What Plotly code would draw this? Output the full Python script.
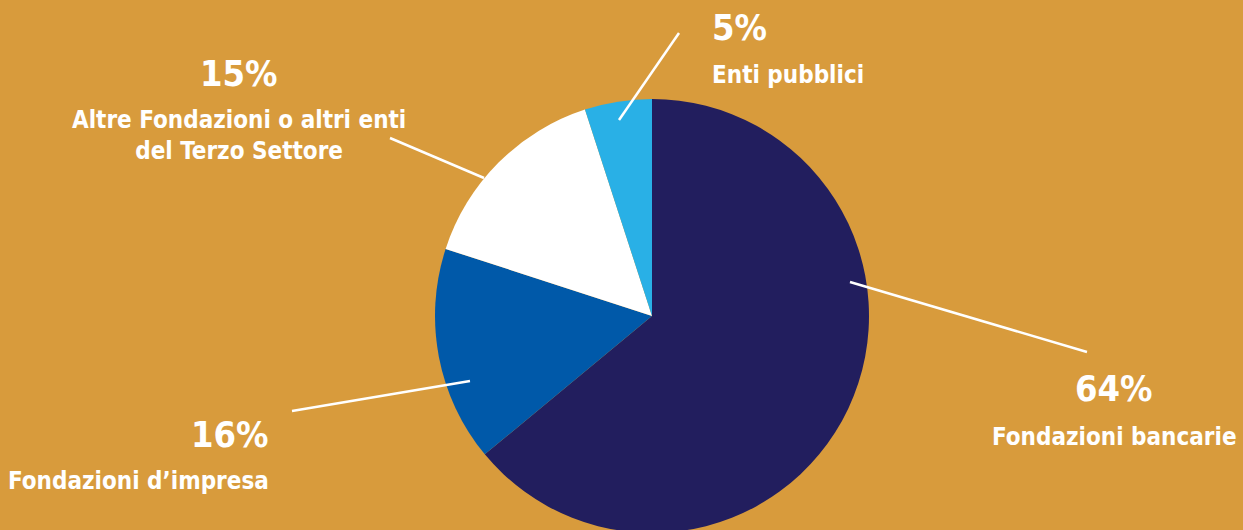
import plotly.graph_objects as go

W, H = 1243, 540

categories = ["Fondazioni bancarie", "Fondazioni d\u2019impresa",
              "Altre Fondazioni o altri enti<br>del Terzo Settore", "Enti pubblici"]
values = [64, 16, 15, 5]
colors = ["#221E5E", "#0059A9", "#FFFFFF", "#29B0E6"]
BG = "#D89B3C"
FONT = "DejaVu Sans Condensed, Roboto, sans-serif"

fig = go.Figure()
fig.add_trace(go.Pie(
    labels=categories, values=values, sort=False, direction="clockwise", rotation=0,
    marker=dict(colors=colors, line=dict(width=0)), textinfo="none", hoverinfo="label+percent",
    showlegend=False,
    domain=dict(x=[435 / W, 869 / W], y=[1 - 533 / H, 1 - 99 / H]),
))

def px(x, y):
    return x / W, 1 - y / H

labels = [
    (f"{values[0]}%", categories[0], 1114, 388, 437, "center", (850, 282), (1087, 352)),
    (f"{values[1]}%", categories[1], 271, 434, 481, "right", (470, 381), (292, 411)),
    (f"{values[2]}%", categories[2], 239, 73, 135.5, "center", (484, 178), (390, 138)),
    (f"{values[3]}%", categories[3], 710, 27, 75, "left", (619, 120), (679, 33)),
]

for pct, name, x, ypct, yname, anchor, p0, p1 in labels:
    xa, ya = px(x, ypct)
    fig.add_annotation(x=xa, y=ya, xref="paper", yref="paper", text=f"<b>{pct}</b>",
                       showarrow=False, xanchor=anchor, yanchor="middle",
                       font=dict(family=FONT, size=36, color="white"))
    xa, yb = px(x, yname)
    fig.add_annotation(x=xa, y=yb, xref="paper", yref="paper", text=f"<b>{name}</b>",
                       showarrow=False, xanchor=anchor, yanchor="middle", align=anchor,
                       font=dict(family=FONT, size=24, color="white"))
    x0, y0 = px(*p0)
    x1, y1 = px(*p1)
    fig.add_shape(type="line", xref="paper", yref="paper", x0=x0, y0=y0, x1=x1, y1=y1,
                  line=dict(color="white", width=2.5))

fig.update_layout(
    width=W, height=H, margin=dict(l=0, r=0, t=0, b=0),
    paper_bgcolor=BG, plot_bgcolor=BG,
)

fig.write_html("out.html", config={"displayModeBar": False},
               post_script="document.body.style.margin='0';document.body.style.overflow='hidden';"
                           "document.body.style.background='" + BG + "';")
